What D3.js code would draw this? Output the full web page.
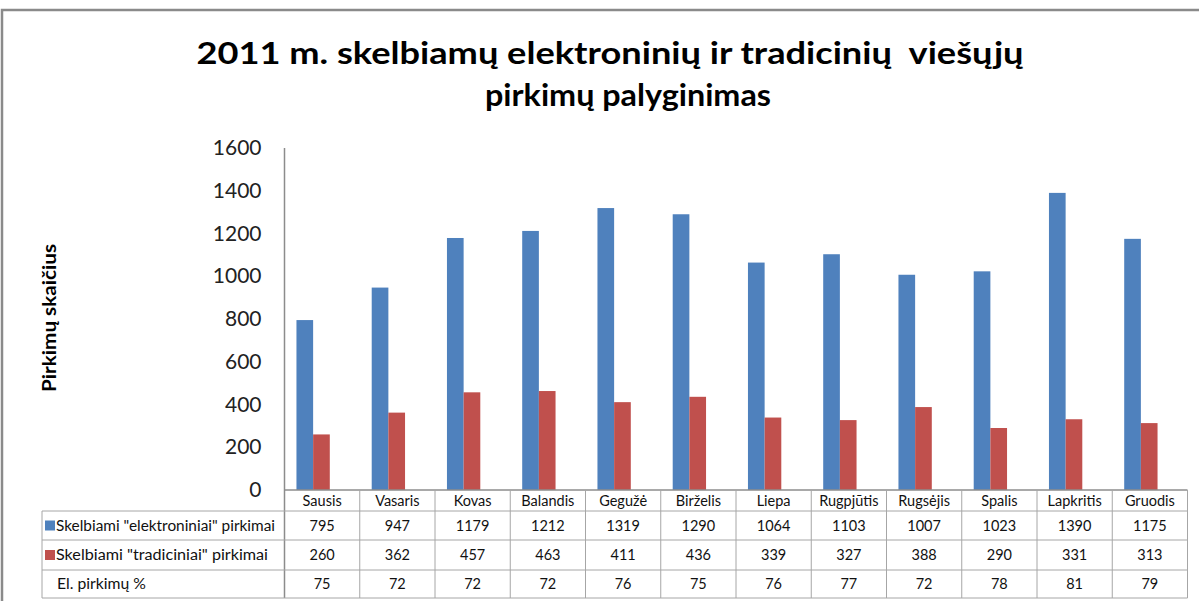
<!DOCTYPE html>
<html><head><meta charset="utf-8">
<script src="https://cdn.jsdelivr.net/npm/d3@7"></script>
<style>
html,body{margin:0;padding:0;background:#fff;}
svg{display:block;font-family:Lato,"Open Sans",sans-serif;}
text{white-space:pre;}
</style></head>
<body>
<script>
const months = ["Sausis","Vasaris","Kovas","Balandis","Gegužė","Birželis","Liepa","Rugpjūtis","Rugsėjis","Spalis","Lapkritis","Gruodis"];
const elektroniniai = [795,947,1179,1212,1319,1290,1064,1103,1007,1023,1390,1175];
const tradiciniai = [260,362,457,463,411,436,339,327,388,290,331,313];
const elPct = [75,72,72,72,76,75,76,77,72,78,81,79];
const yTicks = [0,200,400,600,800,1000,1200,1400,1600];
const seriesNames = ["Skelbiami \"elektroniniai\" pirkimai","Skelbiami \"tradiciniai\" pirkimai","El. pirkimų %"];
const colors = ["#4F81BD","#C0504D"];
const titleLines = ["2011 m. skelbiamų elektroninių ir tradicinių  viešųjų","pirkimų palyginimas"];
const yTitle = "Pirkimų skaičius";

const W = 1199, H = 601;
const svg = d3.select("body").append("svg").attr("width",W).attr("height",H);

// outer border
svg.append("rect").attr("x",2).attr("y",10).attr("width",1230).attr("height",640)
  .attr("fill","none").attr("stroke","#8a8a8a").attr("stroke-width",2.5);

const plotL = 284.5, plotR = 1187.5, plotT = 148, plotB = 490;
const y = d3.scaleLinear().domain([0,1600]).range([plotB,plotT]);
// table columns
const xc = d3.scaleBand().domain(months).range([plotL,plotR]);
// bar groups (Excel draws them slightly left of the table column centres)
const xb = d3.scaleBand().domain(months).range([plotL-9,plotR-9]).paddingInner(0.557).paddingOuter(0.2785);
const xs = d3.scaleBand().domain([0,1]).range([0,xb.bandwidth()]);

// title
svg.append("g").selectAll("text").data(titleLines).join("text")
  .attr("x",(d,i)=> i===0 ? 610 : 628)
  .attr("y",(d,i)=> i===0 ? 64 : 106)
  .attr("text-anchor","middle").attr("font-weight","bold").attr("font-size",31)
  .attr("fill","#000")
  .attr("textLength",(d,i)=> i===0 ? 827 : 286).attr("lengthAdjust","spacingAndGlyphs")
  .text(d=>d);

// y axis
const yAxis = d3.axisLeft(y).tickValues(yTicks).tickSize(0).tickPadding(23).tickFormat(d3.format("d"));
const ga = svg.append("g").attr("transform",`translate(${plotL},0)`).call(yAxis);
ga.select(".domain").remove();
ga.selectAll("text").attr("font-size",21).attr("fill","#222").attr("font-family","Lato,sans-serif");
svg.append("line").attr("x1",plotL).attr("x2",plotL).attr("y1",plotT).attr("y2",598)
  .attr("stroke","#8c8c8c").attr("stroke-width",1.5);

// y title
svg.append("text").attr("transform","translate(56,318) rotate(-90)")
  .attr("text-anchor","middle").attr("font-weight","bold").attr("font-size",19)
  .attr("textLength",148).attr("lengthAdjust","spacingAndGlyphs")
  .text(yTitle);

// bars
const series = [elektroniniai, tradiciniai];
series.forEach((vals,si)=>{
  svg.append("g").selectAll("rect").data(months).join("rect")
    .attr("x",(m)=> xb(m)+xs(si))
    .attr("width",xs.bandwidth())
    .attr("y",(m,i)=> y(vals[i]))
    .attr("height",(m,i)=> plotB - y(vals[i]))
    .attr("fill",colors[si]);
});

// table
const tableL = 42;
const rowY = [490,511,540,570,598];
const grid = svg.append("g").attr("stroke","#a6a6a6").attr("stroke-width",1);
grid.append("line").attr("x1",plotL).attr("x2",plotR).attr("y1",rowY[0]).attr("y2",rowY[0]).attr("stroke","#8c8c8c").attr("stroke-width",1.5);
rowY.slice(1).forEach(yy=>{
  grid.append("line").attr("x1",tableL).attr("x2",plotR).attr("y1",yy).attr("y2",yy);
});
grid.append("line").attr("x1",tableL).attr("x2",tableL).attr("y1",rowY[1]).attr("y2",rowY[4]);
grid.selectAll("line.col").data(months).join("line").attr("class","col")
  .attr("x1",m=>xc(m)+xc.bandwidth()).attr("x2",m=>xc(m)+xc.bandwidth())
  .attr("y1",rowY[0]).attr("y2",rowY[4]);

// header labels
svg.append("g").selectAll("text").data(months).join("text")
  .attr("x",m=>xc(m)+xc.bandwidth()/2).attr("y",(rowY[0]+rowY[1])/2+5)
  .attr("text-anchor","middle").attr("font-size",14.5).attr("fill","#111").text(m=>m);

// row labels + legend keys
const rowVals = [elektroniniai, tradiciniai, elPct];
const labelLens = [219, 212, 89];
rowVals.forEach((vals,ri)=>{
  const cy = (rowY[ri+1]+rowY[ri+2])/2;
  if (ri<2) {
    svg.append("rect").attr("x",45).attr("y",cy-5).attr("width",10).attr("height",10).attr("fill",colors[ri]);
  }
  svg.append("text").attr("x",ri<2?56:57).attr("y",cy+5).attr("font-size",14.5).attr("fill","#111")
    .attr("textLength",labelLens[ri]).attr("lengthAdjust","spacingAndGlyphs")
    .text(seriesNames[ri]);
  svg.append("g").selectAll("text").data(months).join("text")
    .attr("x",m=>xc(m)+xc.bandwidth()/2).attr("y",cy+5)
    .attr("text-anchor","middle").attr("font-size",14.5).attr("fill","#111")
    .text((m,i)=>vals[i]);
});
</script>
</body></html>
